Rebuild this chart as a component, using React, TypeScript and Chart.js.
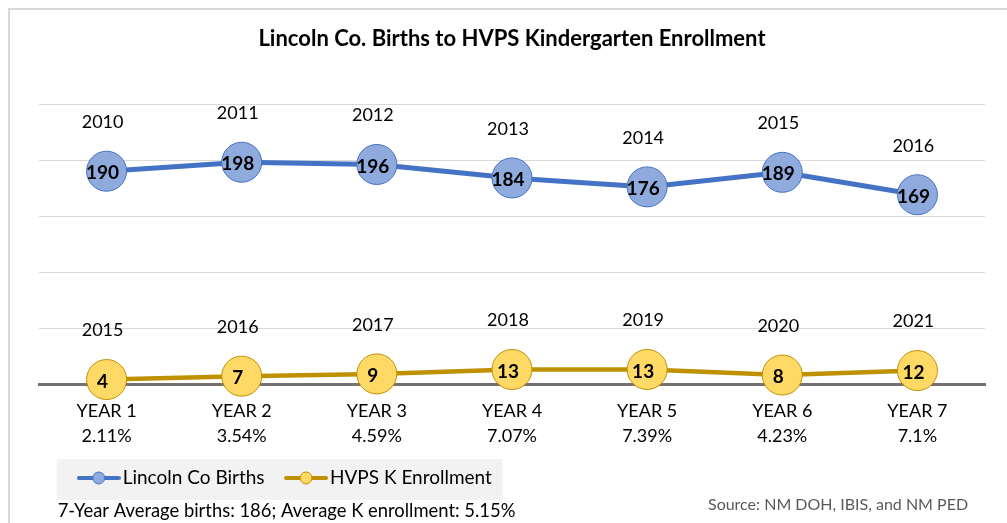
import React, { useEffect, useRef } from 'react';
import { Chart, registerables } from 'chart.js';

Chart.register(...registerables);

const titleText = 'Lincoln Co. Births to HVPS Kindergarten Enrollment';
const yearLabels = ['YEAR 1', 'YEAR 2', 'YEAR 3', 'YEAR 4', 'YEAR 5', 'YEAR 6', 'YEAR 7'];
const pctLabels = ['2.11%', '3.54%', '4.59%', '7.07%', '7.39%', '4.23%', '7.1%'];
const seriesNames = ['Lincoln Co Births', 'HVPS K Enrollment'];
const birthYears = ['2010', '2011', '2012', '2013', '2014', '2015', '2016'];
const births = [190, 198, 196, 184, 176, 189, 169];
const enrollYears = ['2015', '2016', '2017', '2018', '2019', '2020', '2021'];
const enrollment = [4, 7, 9, 13, 13, 8, 12];
const yMin = 0;
const yMax = 250;
const yStep = 50;
const footerText = '7-Year Average births: 186; Average K enrollment: 5.15%';
const sourceText = 'Source: NM DOH, IBIS, and NM PED';

const FONT = 'Lato, "DejaVu Sans", sans-serif';
const BLUE = '#4472C4';
const BLUE_FILL = '#8FAADC';
const GOLD = '#BF9000';
const GOLD_FILL = '#FFD966';

const LEGEND_PAD = 27;
const LEGEND_FONT = 19;

function makeMarker(line: string, fill: string, stroke: string) {
  const c = document.createElement('canvas');
  c.width = 44;
  c.height = 14;
  const ctx = c.getContext('2d')!;
  ctx.strokeStyle = line;
  ctx.lineWidth = 4;
  ctx.lineCap = 'round';
  ctx.beginPath();
  ctx.moveTo(2, 7);
  ctx.lineTo(42, 7);
  ctx.stroke();
  ctx.beginPath();
  ctx.arc(22, 7, 6, 0, Math.PI * 2);
  ctx.fillStyle = fill;
  ctx.fill();
  ctx.lineWidth = 1;
  ctx.strokeStyle = stroke;
  ctx.stroke();
  return c;
}

export default function App() {
  const ref = useRef<HTMLCanvasElement | null>(null);

  useEffect(() => {
    if (!ref.current) return;
    const markers = [makeMarker(BLUE, BLUE_FILL, BLUE), makeMarker(GOLD, GOLD_FILL, GOLD)];
    const yearSets = [birthYears, enrollYears];

    const labelPlugin = {
      id: 'pointLabels',
      afterDatasetsDraw(chart: any) {
        const ctx = chart.ctx;
        ctx.save();
        ctx.textAlign = 'center';
        ctx.textBaseline = 'middle';
        chart.data.datasets.forEach((ds: any, di: number) => {
          const meta = chart.getDatasetMeta(di);
          meta.data.forEach((pt: any, i: number) => {
            ctx.fillStyle = '#000';
            ctx.font = `bold 19px ${FONT}`;
            ctx.fillText(String(ds.data[i]), pt.x - 4, pt.y + 2);
            ctx.font = `18px ${FONT}`;
            ctx.fillText(yearSets[di][i], pt.x - 4, pt.y - 49);
          });
        });
        ctx.restore();
      },
    };

    const layoutPlugin = {
      id: 'legendShift',
      afterLayout(chart: any) {
        const lg = chart.legend;
        if (!lg) return;
        const w = lg.right - lg.left;
        const h = lg.bottom - lg.top;
        lg.left = 84.3 - LEGEND_PAD;
        lg.right = lg.left + w;
        lg.top = 478 - LEGEND_PAD - LEGEND_FONT / 2;
        lg.bottom = lg.top + h;
      },
      beforeDraw(chart: any) {
        const lg = chart.legend;
        if (!lg) return;
        const ctx = chart.ctx;
        const x1 = lg.left + LEGEND_PAD;
        const cy = lg.top + LEGEND_PAD + LEGEND_FONT / 2;
        ctx.save();
        ctx.fillStyle = '#f2f2f2';
        ctx.fillRect(x1 - 27.6, cy - 19, 446, 41);
        ctx.restore();
      },
      afterDraw(chart: any) {
        const ctx = chart.ctx;
        ctx.save();
        ctx.textBaseline = 'alphabetic';
        ctx.textAlign = 'left';
        ctx.fillStyle = '#000';
        ctx.font = `18.4px ${FONT}`;
        ctx.fillText(footerText, 57.7, 516.5);
        ctx.fillStyle = '#595959';
        ctx.font = `16px ${FONT}`;
        ctx.fillText(sourceText, 708, 510);
        ctx.restore();
      },
    };

    const chart = new Chart(ref.current, {
      type: 'line',
      data: {
        labels: yearLabels.map((y, i) => [y, pctLabels[i]]),
        datasets: [
          {
            label: seriesNames[0],
            data: births,
            borderColor: BLUE,
            borderWidth: 5,
            backgroundColor: BLUE_FILL,
            pointRadius: 20,
            pointBorderWidth: 1,
            pointBackgroundColor: BLUE_FILL,
            pointBorderColor: BLUE,
            tension: 0,
            clip: false as any,
          },
          {
            label: seriesNames[1],
            data: enrollment,
            borderColor: GOLD,
            borderWidth: 4.5,
            backgroundColor: GOLD_FILL,
            pointRadius: 20,
            pointBorderWidth: 1,
            pointBackgroundColor: GOLD_FILL,
            pointBorderColor: GOLD,
            tension: 0,
            clip: false as any,
          },
        ],
      },
      options: {
        responsive: false,
        animation: false,
        events: [],
        font: { family: FONT },
        layout: { padding: { left: 39, right: 22, top: 0, bottom: 8 } },
        scales: {
          x: {
            offset: true,
            grid: { display: false, drawTicks: false },
            border: { display: true, color: '#767171', width: 3 },
            ticks: {
              color: '#000',
              padding: 14.5,
              maxRotation: 0,
              autoSkip: false,
              font: { family: FONT, size: 18, lineHeight: '25px' },
            },
            afterFit(scale: any) {
              scale.height = 75;
            },
          },
          y: {
            min: yMin,
            max: yMax,
            ticks: { display: false, stepSize: yStep },
            grid: { color: '#d9d9d9', lineWidth: 1, drawTicks: false },
            border: { display: false },
            afterFit(scale: any) {
              scale.width = 0;
            },
          },
        },
        plugins: {
          title: {
            display: true,
            text: titleText,
            color: '#000',
            font: { family: FONT, size: 22, weight: 'bold', lineHeight: 1.2 },
            padding: { top: 25.8, bottom: 51.8 },
          },
          legend: {
            display: true,
            position: 'bottom',
            align: 'start',
            labels: {
              usePointStyle: true,
              pointStyleWidth: 28.9,
              padding: LEGEND_PAD,
              color: '#000',
              font: { family: FONT, size: LEGEND_FONT },
              generateLabels: (c: any) => {
                const items = (Chart.defaults.plugins.legend.labels as any).generateLabels(c);
                return items.map((it: any, i: number) => ({ ...it, pointStyle: markers[i] }));
              },
            },
          },
          tooltip: { enabled: false },
        },
      } as any,
      plugins: [labelPlugin, layoutPlugin],
    });
    return () => chart.destroy();
  }, []);

  return (
    <div style={{ position: 'fixed', left: 0, top: 0, width: 1007, height: 523, overflow: 'hidden', background: '#fff' }}>
      <div
        style={{
          position: 'absolute',
          left: 8,
          top: 8,
          width: 1100,
          height: 600,
          borderLeft: '2px solid #d9d9d9',
          borderTop: '2px solid #d9d9d9',
        }}
      />
      <canvas ref={ref} width={1007} height={523} style={{ position: 'absolute', left: 0, top: 0 }} />
    </div>
  );
}
